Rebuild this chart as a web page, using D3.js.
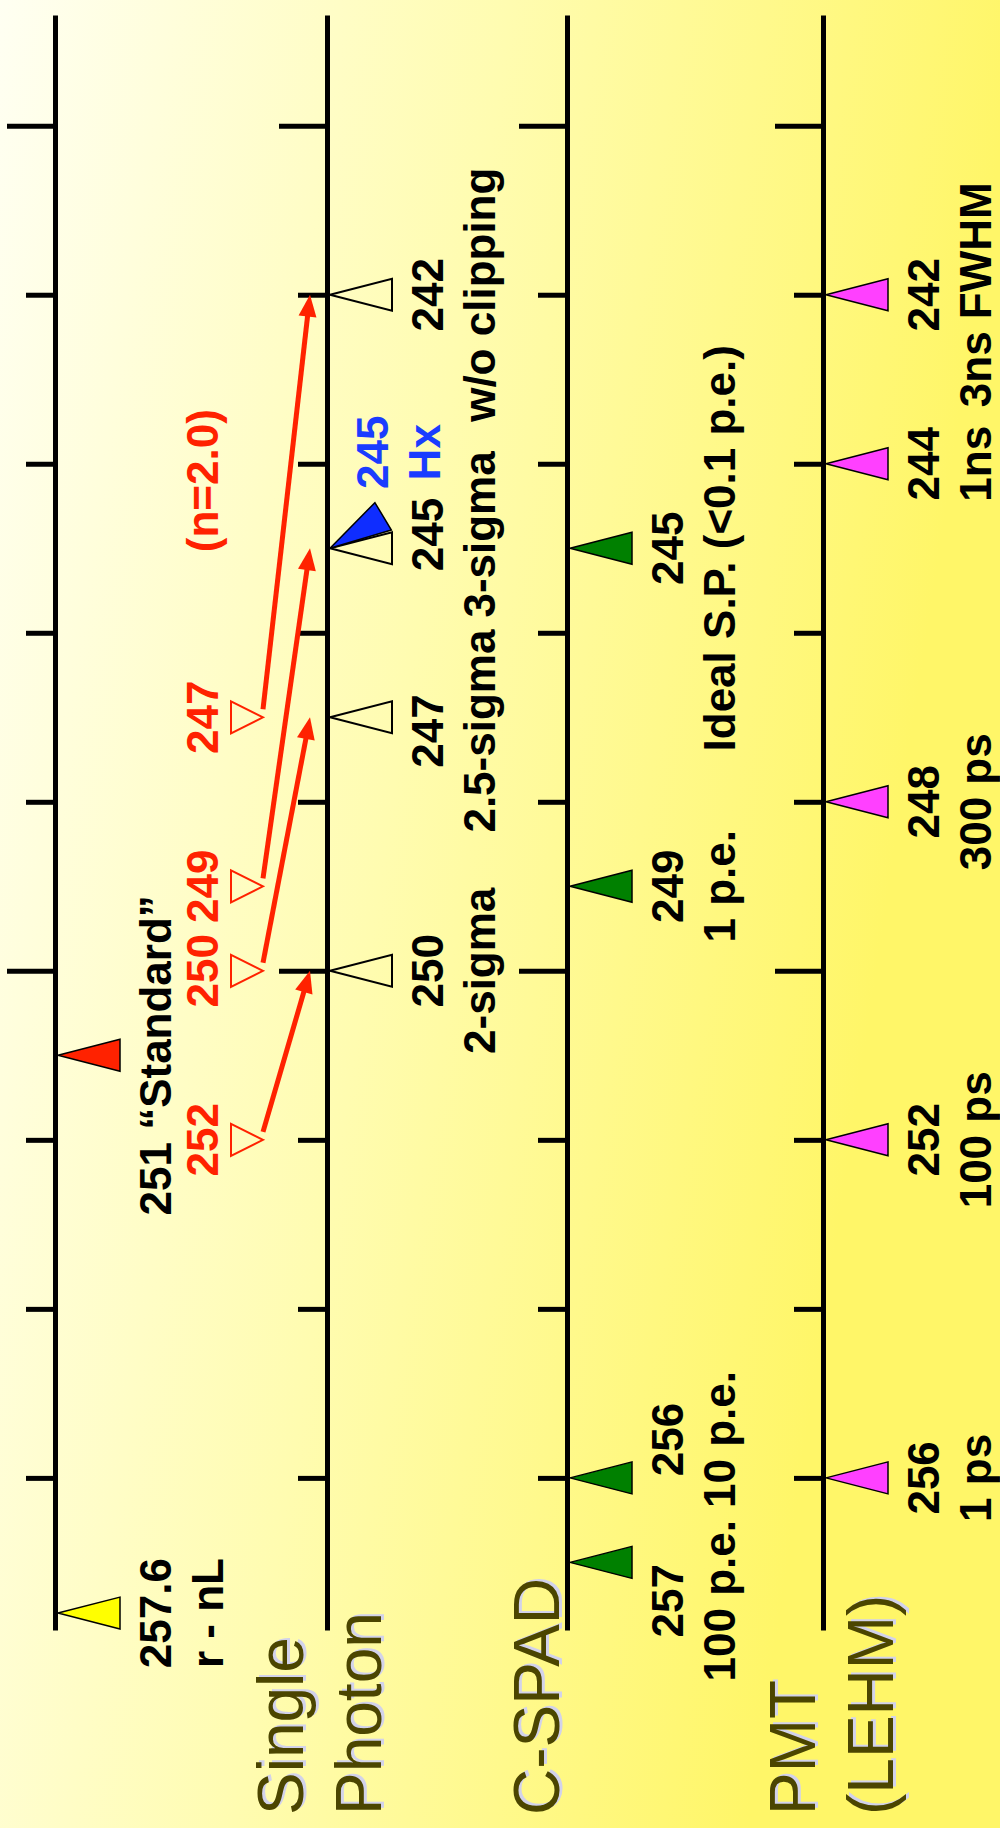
<!DOCTYPE html>
<html>
<head>
<meta charset="utf-8">
<script src="https://cdn.jsdelivr.net/npm/d3@7"></script>
<style>
  html, body { margin: 0; padding: 0; }
  svg { display: block; }
  text { font-family: "Liberation Sans", Arial, Helvetica, sans-serif; }
</style>
</head>
<body>
<svg id="chart" width="1000" height="1828"></svg>
<script>
// ---- data ----------------------------------------------------------
const columns = ["ref", "single", "cspad", "pmt"];
const columnTitles = { single: ["Single", "Photon"], cspad: ["C-SPAD"], pmt: ["PMT", "(LEHM)"] };
const tickValues = [240, 242, 244, 246, 248, 250, 252, 254, 256];
const majorTicks = [240, 250];

// reference points on the first axis
const refValues = [257.6, 251];
const refLabels = ["257.6", "251 \u201cStandard\u201d"];
const refNotes = ["r - nL", ""];
const refColors = ["#ffff00", "#ff2200"];

// single photon, clipping thresholds
const spValues = [250, 247, 245, 242];
const spLabels = ["250", "247", "245", "242"];
const spNotes = ["2-sigma", "2.5-sigma", "3-sigma", "w/o clipping"];

// same thresholds with n = 2.0 (arrows lead to the single photon points)
const n2Values = [252, 250, 249, 247];
const n2Labels = ["252", "250", "249", "247"];
const n2Title = "(n=2.0)";

const hxValue = 245;
const hxLabels = ["245", "Hx"];

const cspadValues = [257, 256, 249, 245];
const cspadLabels = ["257", "256", "249", "245"];
const cspadNotes = ["100 p.e.", "10 p.e.", "1 p.e.", "Ideal S.P. (<0.1 p.e.)"];

const pmtValues = [256, 252, 248, 244, 242];
const pmtLabels = ["256", "252", "248", "244", "242"];
const pmtNotes = ["1 ps", "100 ps", "300 ps", "1ns", "3ns FWHM"];

// ---- layout --------------------------------------------------------
const W = 1000, H = 1828;
const svg = d3.select("#chart");

const defs = svg.append("defs");
const grad = defs.append("linearGradient").attr("id", "bg")
  .attr("gradientUnits", "userSpaceOnUse")
  .attr("x1", 0).attr("y1", 0).attr("x2", W).attr("y2", 150);
[[0, "#fffff2"], [0.5, "#fffcb0"], [1, "#fff668"]]
  .forEach(([o, c]) => grad.append("stop").attr("offset", o).attr("stop-color", c));
svg.append("rect").attr("width", W).attr("height", H).attr("fill", "url(#bg)");

const y = d3.scaleLinear().domain([238.69, 257.8]).range([15, 1630]);
const x = d3.scaleOrdinal().domain(columns).range([55, 327, 567, 823]);

const VAL_OFF = 116;   // value text baseline, right of the axis
const NOTE_OFF = 168;  // note text baseline
const FONT = 44;
const RED = "#ff2200";

// ---- axes ----------------------------------------------------------
columns.forEach(c => {
  const g = svg.append("g").attr("transform", `translate(${x(c)},0)`)
    .call(d3.axisLeft(y).tickValues(tickValues).tickSize(29).tickSizeOuter(0).tickFormat(""));
  g.select(".domain").attr("stroke", "#000").attr("stroke-width", 5);
  g.selectAll(".tick line").attr("stroke", "#000").attr("stroke-width", 5)
    .attr("x2", d => majorTicks.includes(d) ? -48 : -29);
  g.selectAll(".tick text").remove();
});

// ---- column titles -------------------------------------------------
const titleShift = { single: -24, cspad: -8, pmt: -8 };
Object.entries(columnTitles).forEach(([c, lines]) => {
  lines.forEach((line, i) => {
    const bx = x(c) + titleShift[c] + i * 78;
    const g = svg.append("g").attr("transform", `translate(${bx},1815) rotate(-90)`);
    g.append("text").text(line).attr("x", 2).attr("y", 3)
      .attr("font-size", 64).attr("fill", "#d2d2ea");
    g.append("text").text(line).attr("x", 0).attr("y", 0)
      .attr("font-size", 64).attr("fill", "#4b4500");
  });
});

// ---- arrows (n = 2.0 -> single photon) ------------------------------
const arrowG = svg.append("g");
n2Values.forEach((v, i) => {
  const x0 = x("single") - 64, y0 = y(v) - 8;
  const x1 = x("single") - 17, y1 = y(spValues[i]);
  const dx = x1 - x0, dy = y1 - y0, len = Math.hypot(dx, dy);
  const ux = dx / len, uy = dy / len;
  const headL = 22, headW = 9;
  const bx = x1 - ux * headL, by = y1 - uy * headL;
  arrowG.append("line")
    .attr("x1", x0).attr("y1", y0).attr("x2", bx + ux * 2).attr("y2", by + uy * 2)
    .attr("stroke", RED).attr("stroke-width", 5);
  arrowG.append("path")
    .attr("d", `M${x1},${y1}L${bx - uy * headW},${by + ux * headW}L${bx + uy * headW},${by - ux * headW}Z`)
    .attr("fill", RED);
});

// ---- markers -------------------------------------------------------
const leftTri = "M0,0L62,-16L62,16Z";   // points at the axis
const rightTri = "M0,0L-32,-16L-32,16Z";

const markG = svg.append("g");
markG.selectAll(".ref").data(refValues).join("path")
  .attr("d", leftTri)
  .attr("transform", d => `translate(${x("ref") + 3},${y(d)})`)
  .attr("fill", (d, i) => refColors[i]).attr("stroke", "#000").attr("stroke-width", 1.5);

markG.selectAll(".sp").data(spValues).join("path")
  .attr("d", leftTri)
  .attr("transform", d => `translate(${x("single") + 3},${y(d)})`)
  .attr("fill", "none").attr("stroke", "#000").attr("stroke-width", 2);

markG.append("path").datum(hxValue)
  .attr("d", leftTri)
  .attr("transform", d => `translate(${x("single") + 3},${y(d)}) rotate(-31)`)
  .attr("fill", "#0f2dff").attr("stroke", "#000").attr("stroke-width", 1.5);

markG.selectAll(".n2").data(n2Values).join("path")
  .attr("d", rightTri)
  .attr("transform", d => `translate(${x("single") - 64},${y(d)})`)
  .attr("fill", "none").attr("stroke", RED).attr("stroke-width", 2);

markG.selectAll(".cs").data(cspadValues).join("path")
  .attr("d", leftTri)
  .attr("transform", d => `translate(${x("cspad") + 3},${y(d)})`)
  .attr("fill", "#008000").attr("stroke", "#000").attr("stroke-width", 1.5);

markG.selectAll(".pmt").data(pmtValues).join("path")
  .attr("d", leftTri)
  .attr("transform", d => `translate(${x("pmt") + 3},${y(d)})`)
  .attr("fill", "#ff40ff").attr("stroke", "#000").attr("stroke-width", 1.5);

// ---- labels --------------------------------------------------------
// push overlapping label blocks apart along the axis
function spread(items, gap) {
  items.sort((a, b) => a.y - b.y);
  for (let pass = 0; pass < 60; pass++) {
    let moved = false;
    for (let i = 1; i < items.length; i++) {
      const a = items[i - 1], b = items[i];
      const need = (a.len + b.len) / 2 + gap - (b.y - a.y);
      if (need > 0.5) { a.y -= need / 2; b.y += need / 2; moved = true; }
    }
    if (!moved) break;
  }
}

function labelColumn(col, values, labels, notes, color) {
  const items = values.map((v, i) => ({ v, label: labels[i], note: notes ? notes[i] : "", y: y(v) }));
  const g = svg.append("g").selectAll("g").data(items).join("g");
  g.each(function (d) {
    const sel = d3.select(this);
    const t1 = sel.append("text").text(d.label)
      .attr("y", VAL_OFF).attr("text-anchor", "middle")
      .attr("font-size", FONT).attr("font-weight", "bold").attr("fill", color);
    let len = t1.node().getComputedTextLength();
    if (d.note) {
      const t2 = sel.append("text").text(d.note)
        .attr("y", NOTE_OFF).attr("text-anchor", "middle")
        .attr("font-size", FONT).attr("font-weight", "bold").attr("fill", color);
      len = Math.max(len, t2.node().getComputedTextLength());
    }
    d.len = len;
  });
  spread(items, 12);
  g.attr("transform", d => `translate(${x(col)},${d.y}) rotate(-90)`);
}

labelColumn("ref", refValues, refLabels, refNotes, "#000");
labelColumn("single", spValues, spLabels, spNotes, "#000");
labelColumn("cspad", cspadValues, cspadLabels, cspadNotes, "#000");
labelColumn("pmt", pmtValues, pmtLabels, pmtNotes, "#000");

// n = 2.0 values, in their own column left of the single photon axis
const n2G = svg.append("g");
n2G.selectAll("g").data(n2Values).join("g")
  .attr("transform", d => `translate(${x("single") - 109},${y(d)}) rotate(-90)`)
  .append("text").text((d, i) => n2Labels[i])
  .attr("text-anchor", "middle").attr("font-size", FONT).attr("font-weight", "bold").attr("fill", RED);
n2G.append("g")
  .attr("transform", `translate(${x("single") - 109},${y(244.2)}) rotate(-90)`)
  .append("text").text(n2Title)
  .attr("text-anchor", "middle").attr("font-size", FONT).attr("font-weight", "bold").attr("fill", RED);

// Hx label sits above its tilted marker
const hxG = svg.append("g")
  .attr("transform", `translate(${x("single")},${y(hxValue) - 96}) rotate(-90)`);
hxG.append("text").text(hxLabels[0]).attr("y", 61)
  .attr("text-anchor", "middle").attr("font-size", FONT).attr("font-weight", "bold").attr("fill", "#1a3cff");
hxG.append("text").text(hxLabels[1]).attr("y", 113)
  .attr("text-anchor", "middle").attr("font-size", FONT).attr("font-weight", "bold").attr("fill", "#1a3cff");
</script>
</body>
</html>
